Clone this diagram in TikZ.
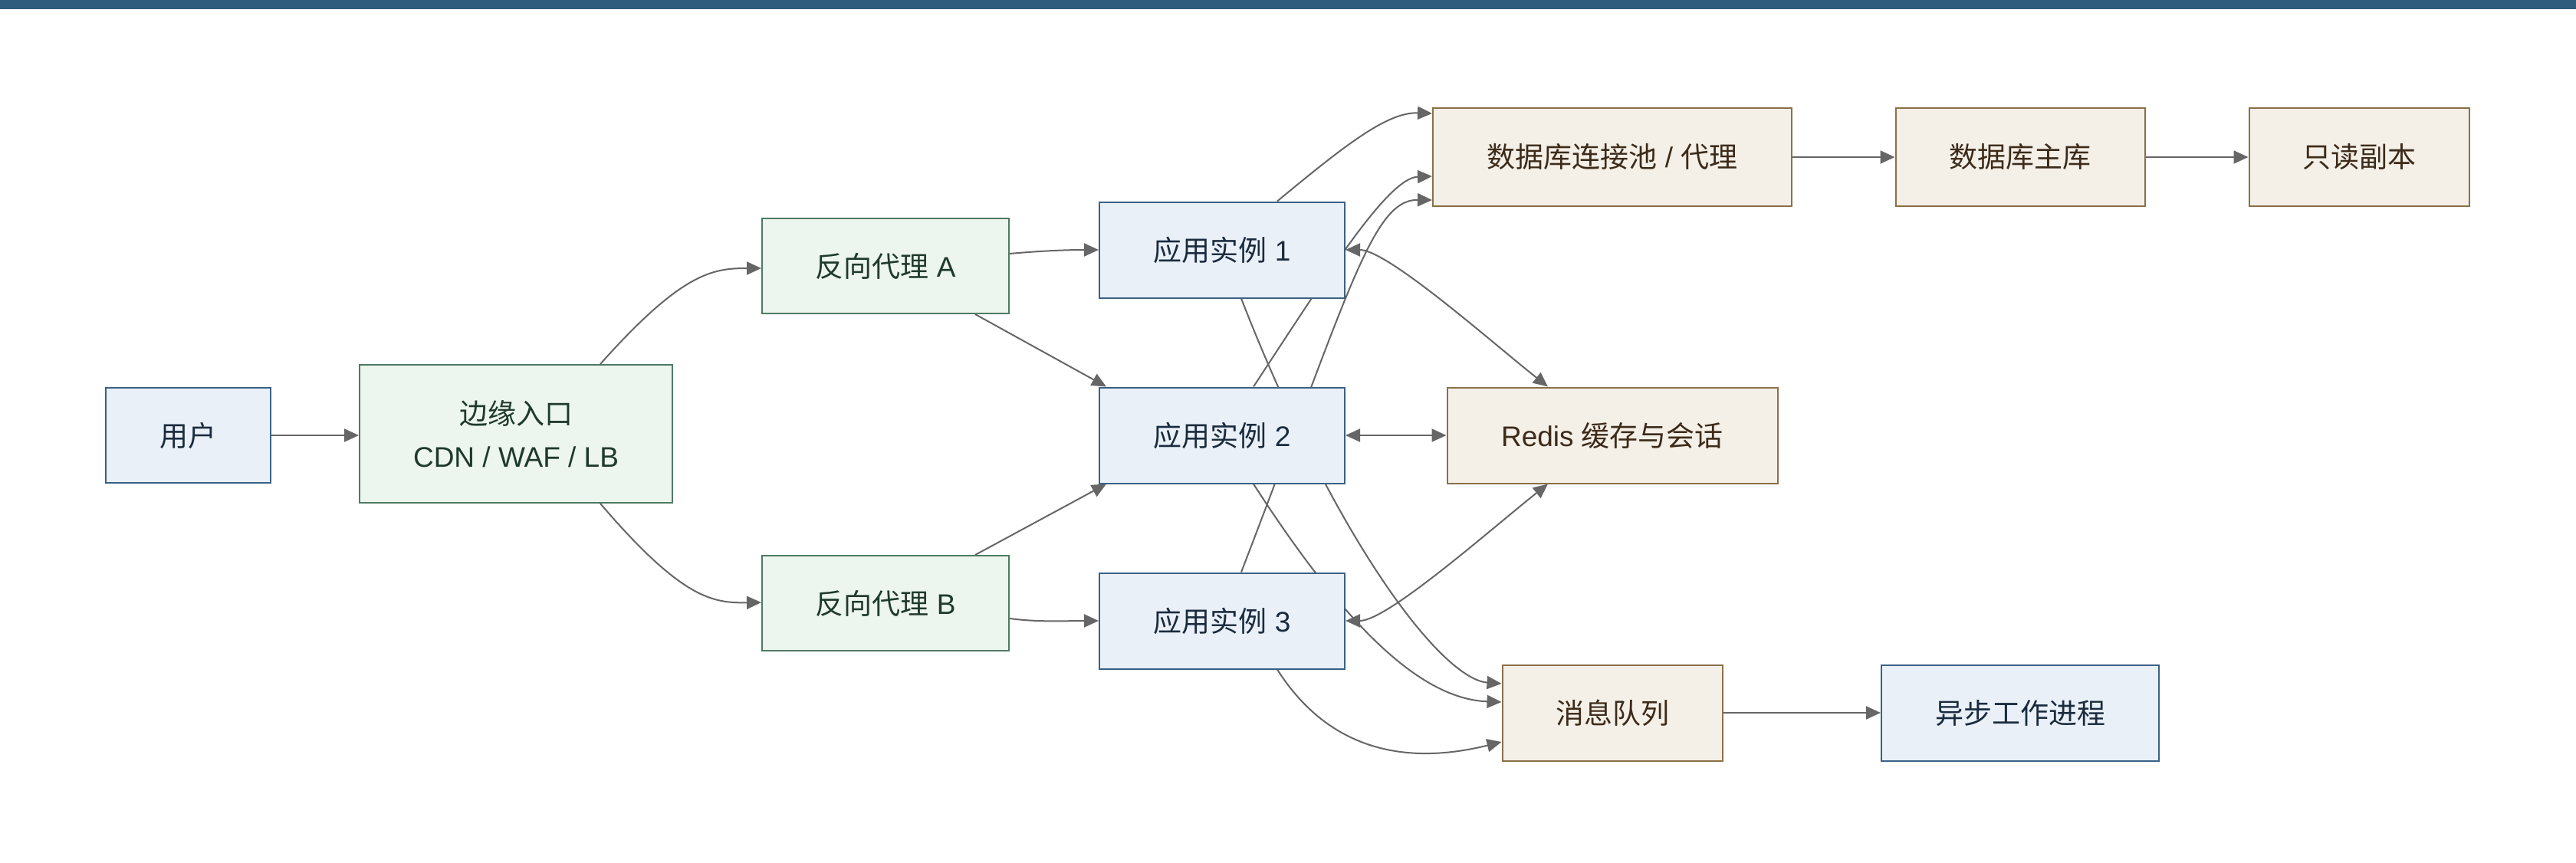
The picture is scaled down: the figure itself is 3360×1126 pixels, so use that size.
\documentclass[tikz,border=0pt]{standalone}
\usepackage{fontspec}
\setmainfont{Liberation Sans}
\newfontfamily\cjk{Noto Sans CJK SC}
\usetikzlibrary{arrows.meta,calc}
\newcommand\zh[1]{{\cjk #1}}
\definecolor{barblue}{HTML}{2F5B7C}
\definecolor{bfill}{HTML}{E9F0F8}
\definecolor{bdraw}{HTML}{3A6186}
\definecolor{btext}{HTML}{1B2B3E}
\definecolor{gfill}{HTML}{EDF5EF}
\definecolor{gdraw}{HTML}{4C7A62}
\definecolor{gtext}{HTML}{1F3A2B}
\definecolor{tfill}{HTML}{F4F0E8}
\definecolor{tdraw}{HTML}{8B7048}
\definecolor{ttext}{HTML}{3D2B1A}
\definecolor{edgegray}{HTML}{666666}
\pgfdeclarelayer{bg}
\pgfsetlayers{bg,main}
\tikzset{
  box/.style={rectangle, line width=2pt, inner sep=0pt, align=center,
    font=\fontsize{37}{56}\selectfont},
  bluebox/.style={box, fill=bfill, draw=bdraw, text=btext},
  greenbox/.style={box, fill=gfill, draw=gdraw, text=gtext},
  tanbox/.style={box, fill=tfill, draw=tdraw, text=ttext},
  conn/.style={draw=edgegray, line width=2pt,
    -{Triangle[length=19pt,width=17pt]}},
  biconn/.style={draw=edgegray, line width=2pt,
    {Triangle[length=19pt,width=17pt]}-{Triangle[length=19pt,width=17pt]}},
}
\begin{document}
\begin{tikzpicture}[x=1pt,y=-1pt]
\useasboundingbox (0,0) rectangle (3360,1126);
\fill[barblue] (0,0) rectangle (3360,12);

\node[bluebox, minimum width=215pt, minimum height=124pt] (user) at (245,568) {\zh{用户}};
\node[greenbox, minimum width=408pt, minimum height=180pt] (entry) at (673,566) {\zh{边缘入口}\\CDN / WAF / LB};
\node[greenbox, minimum width=322pt, minimum height=124pt] (pa) at (1155,347) {\zh{反向代理} A};
\node[greenbox, minimum width=322pt, minimum height=124pt] (pb) at (1155,787) {\zh{反向代理} B};
\node[bluebox, minimum width=320pt, minimum height=125pt] (app1) at (1594,326) {\zh{应用实例} 1};
\node[bluebox, minimum width=320pt, minimum height=125pt] (app2) at (1594,568) {\zh{应用实例} 2};
\node[bluebox, minimum width=320pt, minimum height=125pt] (app3) at (1594,810) {\zh{应用实例} 3};
\node[tanbox, minimum width=468pt, minimum height=127pt] (pool) at (2103,205) {\zh{数据库连接池} / \zh{代理}};
\node[tanbox, minimum width=325pt, minimum height=127pt] (master) at (2635,205) {\zh{数据库主库}};
\node[tanbox, minimum width=287pt, minimum height=127pt] (replica) at (3077,205) {\zh{只读副本}};
\node[tanbox, minimum width=431pt, minimum height=125pt] (redis) at (2103,568) {Redis \zh{缓存与会话}};
\node[tanbox, minimum width=287pt, minimum height=125pt] (mq) at (2103,930) {\zh{消息队列}};
\node[bluebox, minimum width=362pt, minimum height=125pt] (worker) at (2635,930) {\zh{异步工作进程}};

\begin{pgfonlayer}{bg}
\draw[conn] (user.east) -- (user.east -| entry.west);
\draw[conn] ($(entry.north)+(110,0)$) .. controls (890,355) and (930,350) .. ($(pa.west)+(0,3)$);
\draw[conn] ($(entry.south)+(110,0)$) .. controls (890,782) and (930,787) .. ($(pb.west)+(0,-1)$);
\draw[conn] ($(pa.east)+(0,-16)$) .. controls (1350,328) and (1385,326) .. (app1.west);
\draw[conn] ($(pa.south east)+(-45,0)$) -- ($(app2.north west)+(10,0)$);
\draw[conn] ($(pb.north east)+(-45,0)$) -- ($(app2.south west)+(10,0)$);
\draw[conn] ($(pb.east)+(0,20)$) .. controls (1355,812) and (1390,810) .. (app3.west);
% to pool
\draw[conn] ($(app1.north)+(72,0)$) .. controls (1756,188) and (1810,146) .. ($(pool.west)+(0,-57)$);
\draw[conn] ($(app2.north)+(41,0)$) .. controls (1730,360) and (1810,232) .. ($(pool.west)+(0,25)$);
\draw[conn] ($(app3.north)+(25,0)$) .. controls (1760,380) and (1790,260) .. ($(pool.west)+(0,56)$);
% redis
\draw[biconn] (app1.east) .. controls (1810,326) and (1945,446) .. ($(redis.north)+(-84,0)$);
\draw[biconn] (app2.east) -- (redis.west);
\draw[biconn] (app3.east) .. controls (1810,810) and (1945,690) .. ($(redis.south)+(-84,0)$);
% mq
\draw[conn] ($(app1.south)+(25,0)$) .. controls (1742,705) and (1880,886) .. ($(mq.west)+(0,-38)$);
\draw[conn] ($(app2.south)+(41,0)$) .. controls (1750,810) and (1850,912) .. ($(mq.west)+(0,-14)$);
\draw[conn] ($(app3.south)+(72,0)$) .. controls (1740,990) and (1850,995) .. ($(mq.west)+(0,38)$);
% right chain
\draw[conn] (pool.east) -- (master.west);
\draw[conn] (master.east) -- (replica.west);
\draw[conn] (mq.east) -- (worker.west);
\end{pgfonlayer}
\end{tikzpicture}
\end{document}
